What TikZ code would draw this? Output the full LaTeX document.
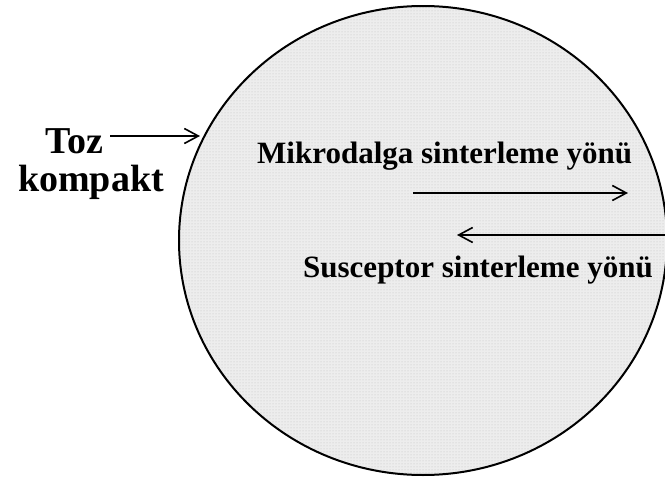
\documentclass[tikz,border=0pt]{standalone}
\usepackage{fontspec}
\setmainfont{Liberation Serif}
\usetikzlibrary{shapes.geometric,arrows.meta,patterns}

\begin{document}
\begin{tikzpicture}[
        x=1pt, y=-1pt,
        >={Straight Barb[length=14pt,width=15pt]},
        lbl/.style={anchor=base west, inner sep=0pt, font=\bfseries\fontsize{31}{31}\selectfont},
        big/.style={anchor=base west, inner sep=0pt, font=\bfseries\fontsize{38}{38}\selectfont},
        arr/.style={->, line width=1.6pt}
    ]
    \useasboundingbox (0,0) rectangle (665,479);

%%
% Pellet (powder compact)
    \node (pellet) [ellipse, draw, line width=2pt, inner sep=0pt,
        minimum width=488pt, minimum height=469pt,
        preaction={fill=black!7}, pattern=dots, pattern color=black!25] at (423,240.5) {};

%%
% Label on the left
    \node (toz) [big] at (45,153) {Toz};
    \node (kompakt) [big] at (18,191) {kompakt};
    \coordinate (tozhit) at (200,136);
    \draw[arr] (110,136) coordinate (tozstart) -- (tozhit);

%%
% Directions of sintering
    \node (mw) [lbl] at (257,163) {Mikrodalga sinterleme yönü};
    \node (sus) [lbl] at (303,277) {Susceptor sinterleme yönü};
    \coordinate (mwa) at (413,193);
    \coordinate (mwb) at (628,193);
    \coordinate (susa) at (665,235);
    \coordinate (susb) at (457,235);
    \draw[arr] (mwa) -- (mwb);
    \draw[arr] (susa) -- (susb);

\end{tikzpicture}
\end{document}
